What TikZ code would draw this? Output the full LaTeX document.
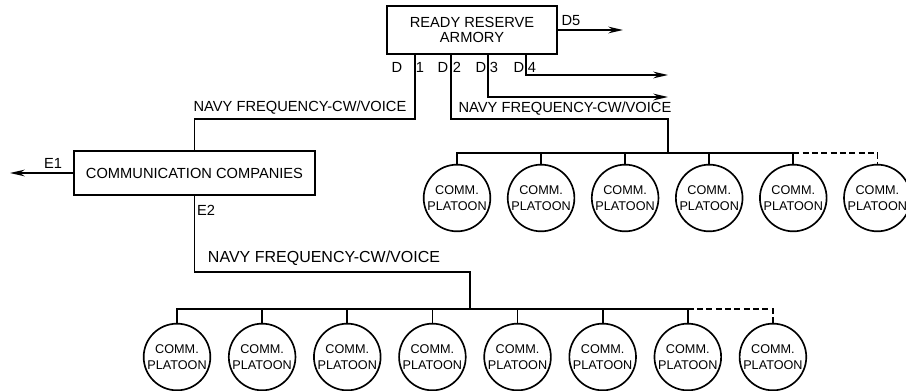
\documentclass[tikz,border=0pt]{standalone}
\usepackage{fontspec}
\setmainfont{Liberation Sans}
\usepackage{tikz}
\usetikzlibrary{positioning, arrows.meta}
\tikzset{
  box/.style={rectangle, draw=black, line width=1.25pt, align=center,
              font=\fontsize{11}{11.5}\selectfont, inner sep=2pt},
  plat/.style={circle, draw=black, line width=1.25pt, minimum size=50pt,
               inner sep=0pt, align=center, font=\fontsize{9.5}{12}\selectfont},
  lbl/.style={inner sep=0pt, font=\fontsize{11}{12}\selectfont},
  wire/.style={line width=1.25pt},
  dwire/.style={line width=1.25pt, dash pattern=on 4.5pt off 2.5pt},
  arr/.style={-{Stealth[length=11pt,width=5pt]}, line width=1.25pt},
}

\begin{document}
\begin{tikzpicture}[x=0.75pt, y=-0.75pt, node distance=12.6pt]
    \useasboundingbox (0,0) rectangle (906,391);
    \node[box, minimum width=127.5pt, minimum height=36pt] (armory) at (472,30)
          {READY RESERVE\\ARMORY};
    \node[box, minimum width=180.75pt, minimum height=33pt] (comm) at (194.5,173)
          {COMMUNICATION COMPANIES};
    % armory platoons
    \node[plat] (t1) at (457,198) {COMM.\\PLATOON};
    \node[plat, right=11.8pt of t1] (t2) {COMM.\\PLATOON};
    \node[plat, right=11.8pt of t2] (t3) {COMM.\\PLATOON};
    \node[plat, right=11.8pt of t3] (t4) {COMM.\\PLATOON};
    \node[plat, right=11.8pt of t4] (t5) {COMM.\\PLATOON};
    \node[plat, right=11.8pt of t5] (t6) {COMM.\\PLATOON};
    % company platoons
    \node[plat] (b1) at (177,357) {COMM.\\PLATOON};
    \node[plat, right=of b1] (b2) {COMM.\\PLATOON};
    \node[plat, right=of b2] (b3) {COMM.\\PLATOON};
    \node[plat, right=of b3] (b4) {COMM.\\PLATOON};
    \node[plat, right=of b4] (b5) {COMM.\\PLATOON};
    \node[plat, right=of b5] (b6) {COMM.\\PLATOON};
    \node[plat, right=of b6] (b7) {COMM.\\PLATOON};
    \node[plat, right=of b7] (b8) {COMM.\\PLATOON};
    \coordinate (d1) at (415,54);
    \coordinate (d2) at (451,54);
    \coordinate (d3) at (488,54);
    \coordinate (d4) at (526,54);
    \coordinate (d3end) at (668,97);
    \coordinate (d4end) at (668,75);
    \coordinate (d5end) at (623,30);
    \coordinate (e1end) at (10,173);
    \coordinate (tstem) at (668,119);
    \coordinate (tbus) at (668,153);
    \coordinate (bstem) at (470,272);
    \coordinate (bbus) at (470,309);
    \node[lbl] (d5lbl) at (571,21) {D5};
    \node[lbl] (d1a) at (397,67) {D};
    \node[lbl] (d1b) at (420,67) {1};
    \node[lbl] (d2a) at (443,67) {D};
    \node[lbl] (d2b) at (457,67) {2};
    \node[lbl] (d3a) at (481,67) {D};
    \node[lbl] (d3b) at (494,67) {3};
    \node[lbl] (d4a) at (519,67) {D};
    \node[lbl] (d4b) at (532,67) {4};
    \node[lbl] (e1lbl) at (53,163) {E1};
    \node[lbl] (e2lbl) at (206,210) {E2};
    \node[lbl] (navy1) at (300,108) {NAVY FREQUENCY-CW/VOICE};
    \node[lbl] (navy2) at (565,109) {NAVY FREQUENCY-CW/VOICE};
    \node[lbl, font=\fontsize{12}{13}\selectfont] (navy3) at (324,258)
          {NAVY FREQUENCY-CW/VOICE};
    \draw[arr] (armory.east)--(d5end);
    \draw[arr] (d4)|-(d4end);
    \draw[arr] (d3)|-(d3end);
    \draw[wire] (d1)|-(comm.north |- tstem)--(comm.north);
    \draw[wire] (d2)|-(tstem)--(tbus);
    \draw[arr] (comm.west)--(e1end);
    \draw[wire] (comm.south)|-(bstem)--(bbus);
    \draw[wire] (t1.north)|-(t5.north |- tbus)--(t5.north);
    \draw[wire] (t2.north)--(t2.north |- tbus);
    \draw[wire] (t3.north)--(t3.north |- tbus);
    \draw[wire] (t4.north)--(t4.north |- tbus);
    \draw[dwire] (t5.north |- tbus)-|(t6.north);
    \draw[wire] (b1.north)|-(b7.north |- bbus)--(b7.north);
    \draw[wire] (b2.north)--(b2.north |- bbus);
    \draw[wire] (b3.north)--(b3.north |- bbus);
    \draw[wire] (b4.north)--(b4.north |- bbus);
    \draw[wire] (b5.north)--(b5.north |- bbus);
    \draw[wire] (b6.north)--(b6.north |- bbus);
    \draw[dwire] (b7.north |- bbus)-|(b8.north);
  \end{tikzpicture}
\end{document}
